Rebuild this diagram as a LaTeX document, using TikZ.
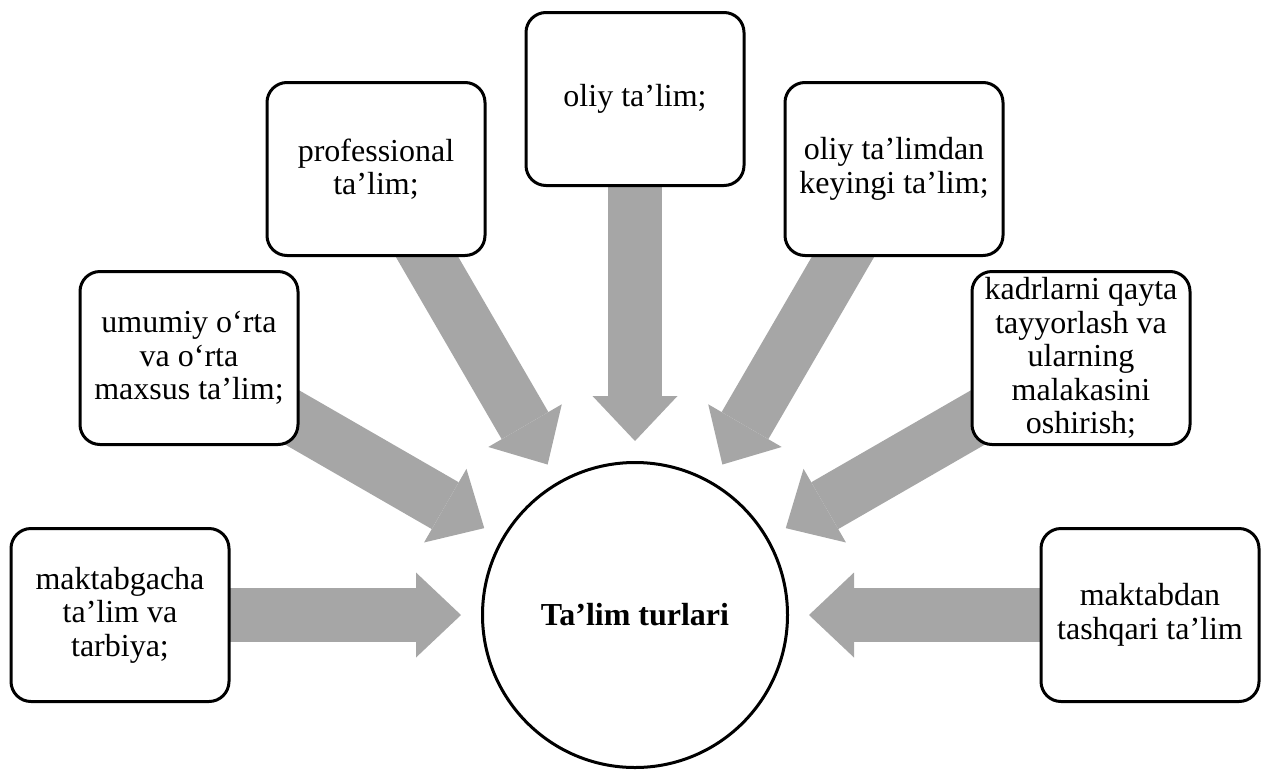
\documentclass[tikz,border=0pt]{standalone}
\usepackage{fontspec}
\setmainfont{Liberation Serif}
\usetikzlibrary{arrows.meta,backgrounds}
\definecolor{flowgray}{RGB}{166,166,166}

\begin{document}
\begin{tikzpicture}[x=1pt,y=-1pt]
		\tikzstyle{Box}		= [draw, line width=3pt, rounded corners=20pt, fill=white, minimum width=218pt, minimum height=173pt, inner sep=2pt, align=center, font=\fontsize{32}{33.5}\selectfont]
		\tikzstyle{Hub}		= [circle, draw, line width=3pt, fill=white, minimum size=305pt, inner sep=0pt, font=\bfseries\fontsize{32}{33.5}\selectfont]
		\tikzstyle{Flow}	= [line width=54pt, draw=flowgray, shorten >=174pt, -{Triangle[width=85pt, length=45pt, line width=0pt, fill=flowgray]}]

		\useasboundingbox (0,0) rectangle (1263,769);

		\node (hub) at (635,615) [Hub] {Ta’lim turlari};

		\node (t0) at (120,615) [Box] {maktabgacha\\ta’lim va\\tarbiya;};
		\node (t1) at (189,358) [Box] {umumiy o‘rta\\va o‘rta\\maxsus ta’lim;};
		\node (t2) at (376,169) [Box] {professional\\ta’lim;};
		\node (t3) at (635,99) [Box] {oliy ta’lim;};
		\node (t4) at (894,169) [Box] {oliy ta’limdan\\keyingi ta’lim;};
		\node (t5) at (1081,358) [Box] {kadrlarni qayta\\tayyorlash va\\ularning\\malakasini\\oshirish;};
		\node (t6) at (1150,615) [Box] {maktabdan\\tashqari ta’lim};

		\begin{scope}[on background layer]
			\draw [Flow] (t0.center) to (hub.center);
			\draw [Flow] (t1.center) to (hub.center);
			\draw [Flow] (t2.center) to (hub.center);
			\draw [Flow] (t3.center) to (hub.center);
			\draw [Flow] (t4.center) to (hub.center);
			\draw [Flow] (t5.center) to (hub.center);
			\draw [Flow] (t6.center) to (hub.center);
		\end{scope}
	\end{tikzpicture}
\end{document}
